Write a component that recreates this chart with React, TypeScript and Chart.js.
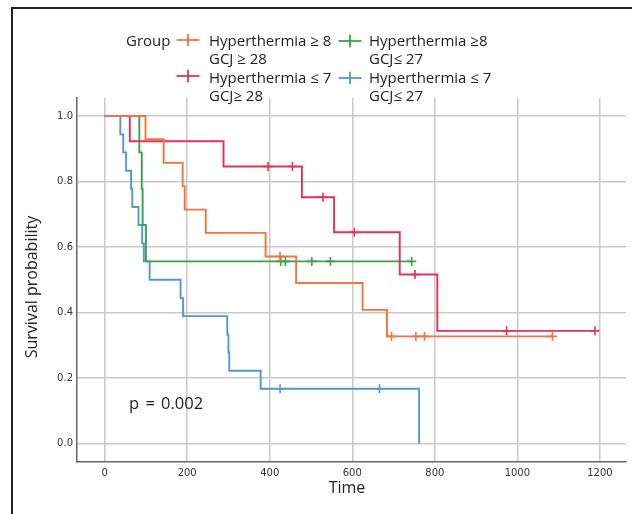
import React, { useEffect, useRef } from 'react';
import { Chart, registerables } from 'chart.js';

Chart.register(...registerables);

// ---- Axis ranges / ticks ----
const X_MIN = -67;
const X_MAX = 1263;
const Y_MIN = -0.0565;
const Y_MAX = 1.055;
const X_STEP = 200;
const Y_STEP = 0.2;

// ---- Group labels ----
const groupTitle = 'Group';
const labelOrange = ['Hyperthermia ≥ 8', 'GCJ ≥ 28'];
const labelRed = ['Hyperthermia ≤ 7', 'GCJ≥ 28'];
const labelGreen = ['Hyperthermia ≥8', 'GCJ≤ 27'];
const labelBlue = ['Hyperthermia ≤ 7', 'GCJ≤ 27'];

// ---- Colours ----
const cOrange = '#F4733E';
const cRed = '#E5305C';
const cGreen = '#3AA24C';
const cBlue = '#5596D8';

// ---- Kaplan-Meier steps (time, survival after that time) ----
const orangeTimes = [0, 99, 143, 189, 194, 245, 390, 464, 625, 684, 1085];
const orangeSurv = [1.0, 0.929, 0.857, 0.786, 0.714, 0.643, 0.571, 0.49, 0.408, 0.327, 0.327];
const orangeCensorTimes = [425, 695, 754, 775, 1085];
const orangeCensorSurv = [0.571, 0.327, 0.327, 0.327, 0.327];

const redTimes = [0, 61, 288, 478, 556, 715, 806, 1188];
const redSurv = [1.0, 0.923, 0.846, 0.752, 0.645, 0.516, 0.344, 0.344];
const redCensorTimes = [396, 455, 529, 605, 752, 974, 1188];
const redCensorSurv = [0.846, 0.846, 0.752, 0.645, 0.516, 0.344, 0.344];

const greenTimes = [0, 84, 90, 92, 100, 744];
const greenSurv = [1.0, 0.889, 0.778, 0.667, 0.556, 0.556];
const greenCensorTimes = [427, 438, 502, 547, 744];
const greenCensorSurv = [0.556, 0.556, 0.556, 0.556, 0.556];

const blueTimes = [0, 38, 45, 52, 64, 67, 82, 91, 95, 109, 184, 190, 297, 300, 302, 378, 762];
const blueSurv = [1.0, 0.944, 0.889, 0.833, 0.778, 0.722, 0.667, 0.611, 0.556, 0.5, 0.444, 0.389, 0.333, 0.278, 0.222, 0.167, 0.0];
const blueCensorTimes = [425, 666];
const blueCensorSurv = [0.167, 0.167];

const pValueText = 'p = 0.002';
const xTitle = 'Time';
const yTitle = 'Survival probability';

const toPts = (xs: number[], ys: number[]) => xs.map((x, i) => ({ x, y: ys[i] }));

const stepSet = (xs: number[], ys: number[], color: string) => ({
  type: 'line' as const,
  data: toPts(xs, ys),
  borderColor: color,
  backgroundColor: color,
  borderWidth: 1.9,
  stepped: 'before' as const,
  pointRadius: 0,
  fill: false,
  tension: 0,
});

const censorSet = (xs: number[], ys: number[], color: string) => ({
  type: 'scatter' as const,
  data: toPts(xs, ys),
  borderColor: color,
  backgroundColor: color,
  pointStyle: 'cross' as const,
  pointRadius: 4.5,
  pointBorderWidth: 1.6,
  showLine: false,
});

const UI_FONT = '"Open Sans", "Noto Sans", sans-serif';

function Cross({ cx, cy, color }: { cx: number; cy: number; color: string }) {
  return (
    <svg
      width={26}
      height={16}
      style={{ position: 'absolute', left: cx - 13, top: cy - 8, overflow: 'visible' }}
    >
      <line x1={1.5} y1={8} x2={24.5} y2={8} stroke={color} strokeWidth={1.8} />
      <line x1={13} y1={1.8} x2={13} y2={14.2} stroke={color} strokeWidth={1.8} />
    </svg>
  );
}

function LegendText({ left, top, lines }: { left: number; top: number; lines: string[] }) {
  return (
    <div
      style={{
        position: 'absolute',
        left,
        top,
        fontFamily: UI_FONT,
        fontSize: 15,
        lineHeight: '18px',
        color: '#222',
        whiteSpace: 'nowrap',
      }}
    >
      {lines.map((l, i) => (
        <div key={i}>{l}</div>
      ))}
    </div>
  );
}

export default function App() {
  const ref = useRef<HTMLCanvasElement>(null);

  useEffect(() => {
    const canvas = ref.current;
    if (!canvas) return;
    const tickFont = { family: '"DejaVu Sans", sans-serif', size: 10 };
    const chart = new Chart(canvas, {
      type: 'line',
      data: {
        datasets: [
          censorSet(orangeCensorTimes, orangeCensorSurv, cOrange),
          censorSet(redCensorTimes, redCensorSurv, cRed),
          censorSet(greenCensorTimes, greenCensorSurv, cGreen),
          censorSet(blueCensorTimes, blueCensorSurv, cBlue),
          stepSet(orangeTimes, orangeSurv, cOrange),
          stepSet(redTimes, redSurv, cRed),
          stepSet(greenTimes, greenSurv, cGreen),
          stepSet(blueTimes, blueSurv, cBlue),
        ] as any,
      },
      options: {
        responsive: false,
        animation: false,
        devicePixelRatio: 1,
        events: [],
        layout: { padding: { top: 98, right: 2, left: 0, bottom: 0 } },
        plugins: {
          legend: { display: false },
          tooltip: { enabled: false },
          title: { display: false },
        },
        scales: {
          x: {
            type: 'linear',
            min: X_MIN,
            max: X_MAX,
            afterFit: (s: any) => {
              s.height = 52;
            },
            ticks: {
              stepSize: X_STEP,
              includeBounds: false,
              padding: 5,
              color: '#333',
              font: tickFont,
              maxRotation: 0,
              callback: (v: any) => String(v),
            },
            grid: { color: '#c9c9c9', lineWidth: 1.5, drawTicks: false },
            border: { display: true, color: '#666', width: 1.5 },
          },
          y: {
            type: 'linear',
            min: Y_MIN,
            max: Y_MAX,
            afterFit: (s: any) => {
              s.width = 77;
            },
            ticks: {
              stepSize: Y_STEP,
              includeBounds: false,
              padding: 4,
              color: '#333',
              font: tickFont,
              callback: (v: any) => Number(v).toFixed(1),
            },
            grid: { color: '#c9c9c9', lineWidth: 1.5, drawTicks: false },
            border: { display: true, color: '#666', width: 1.5 },
          },
        },
      } as any,
    });
    return () => chart.destroy();
  }, []);

  return (
    <div
      style={{
        position: 'absolute',
        left: 0,
        top: 0,
        width: 632,
        height: 514,
        background: '#fff',
        overflow: 'hidden',
      }}
    >
      <canvas ref={ref} width={632} height={514} style={{ position: 'absolute', left: 0, top: 0, width: 632, height: 514 }} />
      {/* frame */}
      <div
        style={{
          position: 'absolute',
          left: 11,
          top: 7,
          width: 640,
          height: 530,
          borderTop: '2px solid #222',
          borderLeft: '2px solid #222',
        }}
      />
      {/* legend */}
      <div
        style={{
          position: 'absolute',
          left: 126,
          top: 31,
          fontFamily: UI_FONT,
          fontSize: 15,
          lineHeight: '18px',
          color: '#222',
        }}
      >
        {groupTitle}
      </div>
      <Cross cx={187.5} cy={39.5} color={cOrange} />
      <LegendText left={209} top={31} lines={labelOrange} />
      <Cross cx={187.5} cy={75.5} color={cRed} />
      <LegendText left={209} top={67.5} lines={labelRed} />
      <Cross cx={350} cy={40.5} color={cGreen} />
      <LegendText left={369} top={31} lines={labelGreen} />
      <Cross cx={349.5} cy={78} color={cBlue} />
      <LegendText left={369} top={67.5} lines={labelBlue} />
      {/* p value */}
      <div
        style={{
          position: 'absolute',
          left: 129,
          top: 393,
          fontFamily: UI_FONT,
          fontSize: 16.5,
          lineHeight: '20px',
          wordSpacing: 2,
          color: '#222',
          whiteSpace: 'pre',
        }}
      >
        {pValueText}
      </div>
      {/* axis titles */}
      <div
        style={{
          position: 'absolute',
          left: 247,
          top: 477,
          width: 200,
          textAlign: 'center',
          fontFamily: UI_FONT,
          fontSize: 16,
          lineHeight: '20px',
          color: '#222',
        }}
      >
        {xTitle}
      </div>
      <div
        style={{
          position: 'absolute',
          left: 31 - 100,
          top: 287 - 10,
          width: 200,
          height: 20,
          textAlign: 'center',
          fontFamily: UI_FONT,
          fontSize: 16,
          lineHeight: '20px',
          color: '#222',
          transform: 'rotate(-90deg)',
          transformOrigin: '50% 50%',
          whiteSpace: 'nowrap',
        }}
      >
        {yTitle}
      </div>
    </div>
  );
}
